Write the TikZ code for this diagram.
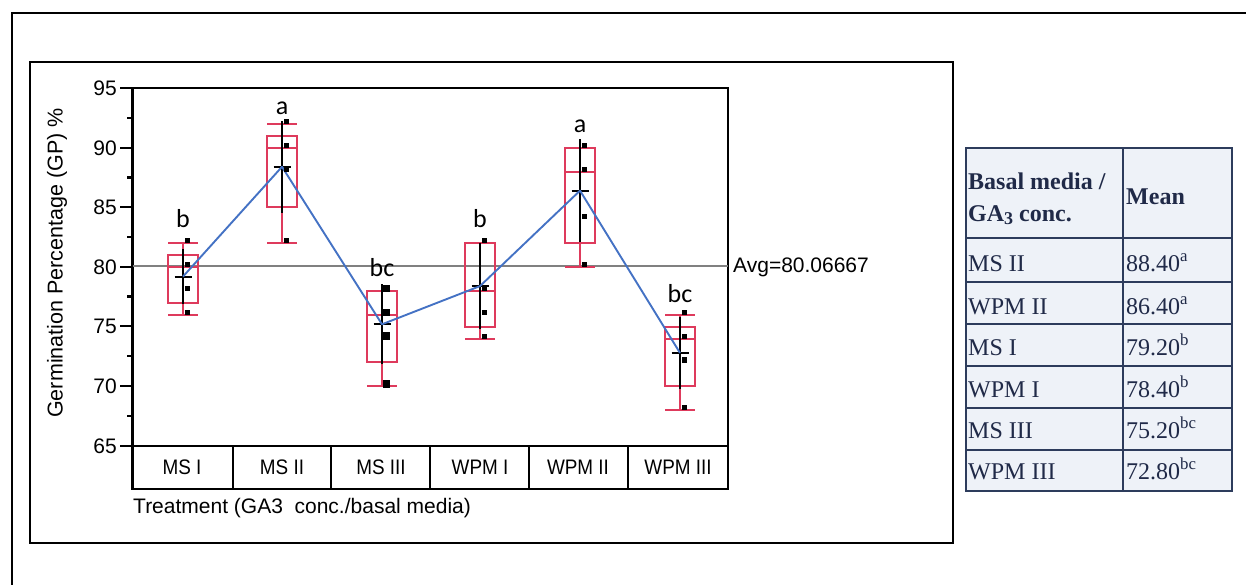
\documentclass[tikz,border=0pt]{standalone}
\usepackage{fontspec}
\usepackage{graphicx}
\setmainfont{Liberation Serif}
\newfontfamily\sansf{Liberation Sans}
\newfontfamily\calf{Carlito}

\definecolor{boxred}{RGB}{222,58,92}
\definecolor{meanblue}{RGB}{68,114,196}
\definecolor{avggray}{RGB}{128,128,128}
\definecolor{tabbg}{RGB}{238,242,248}
\definecolor{tabline}{RGB}{45,60,92}
\definecolor{tabtext}{RGB}{32,42,72}

% one box plot: centre, min, q1, median, q3, max, mean, sd
\newcommand\gpbox[8]{%
  \draw[redline] ({#1-15},#3) rectangle ({#1+15},#5);
  \draw[redline] ({#1-15},#4) -- ({#1+15},#4);
  \draw[redline] (#1,#2) -- (#1,#3) (#1,#5) -- (#1,#6);
  \draw[redline] ({#1-15},#2) -- ({#1+15},#2) ({#1-15},#6) -- ({#1+15},#6);
  \draw[sdline] (#1,{#7-#8}) -- (#1,{#7+#8});
  \draw[meanmark] ({#1-8.5},#7) -- ({#1+8.5},#7);%
}
% one observation: centre, value, half size (pt)
\newcommand\gppt[3]{%
  \fill ({#1+4.5},{#2+0.2}) ++(-#3pt,-#3pt) rectangle ++({2*#3pt},{2*#3pt});%
}

\begin{document}
\begin{tikzpicture}[x=1pt,y=-1pt,
  frameline/.style={black,line width=2.8pt},
  plotline/.style={black,line width=2.6pt},
  redline/.style={draw=boxred,line width=2pt},
  sdline/.style={black,line width=2.4pt},
  meanmark/.style={black,line width=2pt},
  chartfont/.style={font=\sansf\fontsize{21pt}{21pt}\selectfont,inner sep=0pt},
  ticklab/.style={chartfont,anchor=east},
  catlab/.style={chartfont},
  sig/.style={font=\calf\fontsize{26pt}{26pt}\selectfont,anchor=base,inner sep=0pt},
  tabtxt/.style={font=\fontsize{24pt}{24pt}\selectfont,text=tabtext,anchor=base west,inner sep=0pt},
  tabgrid/.style={draw=tabline,line width=1.6pt}]
\useasboundingbox (0,0) rectangle (1246,585);

% outer frame (only top and left edges inside the page)
\draw[frameline] (1246,13) -- (12,13) -- (12,585);

% chart frame
\draw[black,line width=2.2pt] (30,62) rectangle (953,543);

% plot box and category row
\draw[plotline] (132.5,88) rectangle (728,446);
\draw[plotline] (132.5,446) -- (132.5,489) -- (728,489) -- (728,446);
\foreach \xx in {233,331,430,529,628}{
  \draw[black,line width=2.2pt] (\xx,446) -- (\xx,489);
}

% y ticks
\foreach \val/\yy in {95/88,90/148,85/207,80/267,75/326,70/386,65/446}{
  \draw[black,line width=2.2pt] (120,\yy) -- (132.5,\yy);
  \node[ticklab] (t\val) at (117,\yy) {\val};
}
\foreach \yy in {118,177.5,237,296.5,356,416}{
  \draw[black,line width=2.2pt] (127,\yy) -- (132.5,\yy);
}

% axis titles
\node[font=\sansf\fontsize{21.5pt}{21.5pt}\selectfont,rotate=90,inner sep=0pt] (ylab) at (57,263)
  {Germination Percentage (GP) \%};
\node[chartfont,anchor=west] (xlab) at (133,508)
  {Treatment (GA3\ \ conc./basal media)};

% category labels
\node[catlab] (c1) at (182,467) {\scalebox{0.9}[1]{MS I}};
\node[catlab] (c2) at (282,467) {\scalebox{0.9}[1]{MS II}};
\node[catlab] (c3) at (381,467) {\scalebox{0.9}[1]{MS III}};
\node[catlab] (c4) at (480,467) {\scalebox{0.9}[1]{WPM I}};
\node[catlab] (c5) at (578,467) {\scalebox{0.9}[1]{WPM II}};
\node[catlab] (c6) at (678,467) {\scalebox{0.9}[1]{WPM III}};

\begin{scope}[shift={(0,1221.645)},y=11.933pt]
  % grand mean
  \draw[avggray,line width=2pt] (132.5,80.0667) -- (728,80.0667);
  \gpbox{183}{76}{77}{80}{81}{82}{79.2}{2.28}
  \gpbox{282}{82}{85}{90}{91}{92}{88.4}{3.85}
  \gpbox{382}{70}{72}{76}{78}{78}{75.2}{3.35}
  \gpbox{480}{74}{75}{78}{82}{82}{78.4}{3.58}
  \gpbox{580}{80}{82}{88}{90}{90}{86.4}{4.34}
  \gpbox{680}{68}{70}{74}{75}{76}{72.8}{3.03}
  \coordinate (m1) at (183,79.2);
  \coordinate (m2) at (282,88.4);
  \coordinate (m3) at (382,75.2);
  \coordinate (m4) at (480,78.4);
  \coordinate (m5) at (580,86.4);
  \coordinate (m6) at (680,72.8);
  \draw[meanblue,line width=1.9pt,line join=round] (m1) -- (m2) -- (m3) -- (m4) -- (m5) -- (m6);
  \foreach \val in {82,80,78,76}{\gppt{183}{\val}{2.6}}
  \foreach \val in {92,90,88,82}{\gppt{282}{\val}{2.6}}
  \foreach \val in {78,76,74,70}{\gppt{382}{\val}{3.8}}
  \foreach \val in {82,78,76,74}{\gppt{480}{\val}{2.6}}
  \foreach \val in {90,88,84,80}{\gppt{580}{\val}{2.6}}
  \foreach \val in {76,74,72,68}{\gppt{680}{\val}{2.6}}
\end{scope}

\node[chartfont,anchor=west] (avg) at (733,267) {Avg=80.06667};

% significance letters
\node[sig] (s1) at (183,228) {b};
\node[sig] (s2) at (282,115) {a};
\node[sig] (s3) at (382,276) {bc};
\node[sig] (s4) at (480,228) {b};
\node[sig] (s5) at (580,133) {a};
\node[sig] (s6) at (680,302) {bc};

% table of means
\fill[tabbg] (966,148) rectangle (1232,491);
\foreach \yy in {238,282,324,366,408,450}{
  \draw[tabgrid] (966,\yy) -- (1232,\yy);
}
\draw[tabgrid] (1123,148) -- (1123,491);
\draw[draw=tabline,line width=2.2pt] (966,148) rectangle (1232,491);

\node[tabtxt,font=\bfseries\fontsize{24pt}{24pt}\selectfont] (h1) at (968,190) {Basal media /};
\node[tabtxt,font=\bfseries\fontsize{24pt}{24pt}\selectfont] (h2) at (968,222)
  {GA\raisebox{-2.5pt}{\fontsize{18pt}{18pt}\selectfont 3} conc.};
\node[tabtxt,font=\bfseries\fontsize{24pt}{24pt}\selectfont] (h3) at (1126,205) {Mean};

\node[tabtxt] (a1) at (968,271) {MS II};
\node[tabtxt] (a2) at (968,314) {WPM II};
\node[tabtxt] (a3) at (968,355) {MS I};
\node[tabtxt] (a4) at (968,397) {WPM I};
\node[tabtxt] (a5) at (968,438) {MS III};
\node[tabtxt] (a6) at (968,479) {WPM III};

\node[tabtxt] (b1) at (1126,271) {88.40\textsuperscript{a}};
\node[tabtxt] (b2) at (1126,314) {86.40\textsuperscript{a}};
\node[tabtxt] (b3) at (1126,355) {79.20\textsuperscript{b}};
\node[tabtxt] (b4) at (1126,397) {78.40\textsuperscript{b}};
\node[tabtxt] (b5) at (1126,438) {75.20\textsuperscript{bc}};
\node[tabtxt] (b6) at (1126,479) {72.80\textsuperscript{bc}};
\end{tikzpicture}
\end{document}
